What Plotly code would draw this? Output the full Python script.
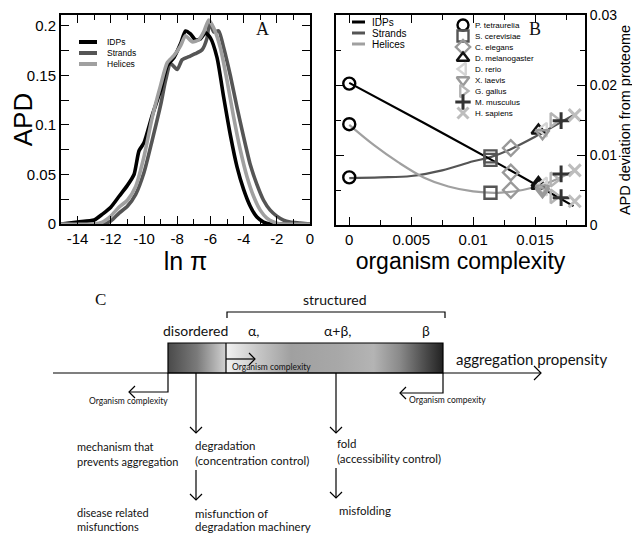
import plotly.graph_objects as go

# ---------------- Panel A data (APD vs ln pi) ----------------
idp_x = [-15, -14, -13, -12.5, -12, -11.5, -11, -10.6, -10.3, -10, -9.5, -9, -8.6, -8.2, -7.8,
         -7.5, -7.2, -6.9, -6.6, -6.3, -6.0, -5.6, -5.2, -4.8, -4.4, -4.0, -3.6, -3.2, -2.8, -2.4, -1, 0]
idp_y = [0, 0.002, 0.004, 0.010, 0.017, 0.028, 0.039, 0.050, 0.074, 0.082, 0.110, 0.135, 0.160, 0.168, 0.182,
         0.195, 0.192, 0.186, 0.187, 0.193, 0.188, 0.168, 0.128, 0.090, 0.058, 0.035, 0.018, 0.007, 0.002, 0.0, 0, 0]

strand_x = [-15, -12.5, -12, -11.5, -11, -10.5, -10, -9.5, -9, -8.7, -8.4, -8.0, -7.7, -7.3, -6.9, -6.5,
            -6.2, -6.05, -5.8, -5.5, -5.2, -4.8, -4.4, -4.0, -3.6, -3.2, -2.8, -2.4, -2.0, -1.6, -1.2, -0.6, 0]
strand_y = [0, 0, 0.003, 0.011, 0.018, 0.030, 0.052, 0.085, 0.120, 0.145, 0.162, 0.156, 0.166, 0.169, 0.172, 0.176,
            0.188, 0.204, 0.194, 0.195, 0.178, 0.150, 0.118, 0.088, 0.060, 0.040, 0.024, 0.014, 0.008, 0.004, 0.002, 0.001, 0]

helix_x = [-15, -13, -12.5, -12, -11.5, -11, -10.5, -10, -9.5, -9, -8.6, -8.2, -7.8, -7.5, -7.1, -6.7,
           -6.4, -6.1, -5.8, -5.4, -5.0, -4.6, -4.2, -3.8, -3.4, -3.0, -2.6, -2.2, -1.8, -1, 0]
helix_y = [0, 0, 0.002, 0.008, 0.017, 0.024, 0.038, 0.068, 0.108, 0.140, 0.163, 0.170, 0.180, 0.190, 0.184, 0.186,
           0.194, 0.206, 0.198, 0.178, 0.145, 0.108, 0.075, 0.048, 0.028, 0.014, 0.006, 0.002, 0, 0, 0]

# ---------------- Panel B data (APD deviation vs organism complexity) ----------------
organisms = ["P. tetraurelia", "S. cerevisiae", "C. elegans", "D. melanogaster", "D. rerio",
             "X. laevis", "G. gallus", "M. musculus", "H. sapiens"]
complexity = [0.0, 0.01140, 0.01304, 0.01527, 0.0157, 0.0156, 0.0165, 0.0171, 0.0182]
dev_idp = [0.0202, 0.0093, 0.0075, 0.0060, 0.0052, 0.0048, 0.0041, 0.0039, 0.0034]
dev_strand = [0.0068, 0.0098, 0.0110, 0.0135, 0.0136, 0.0131, 0.0150, 0.0149, 0.0157]
dev_helix = [0.0144, 0.0046, 0.0050, 0.0056, 0.0058, 0.0052, 0.0065, 0.0073, 0.0078]

fit_idp_x = [0.0, 0.0060, 0.0120, 0.0181]
fit_idp_y = [0.0203, 0.0146, 0.0088, 0.0027]
fit_strand_x = [0.0, 0.0025, 0.005, 0.0075, 0.010, 0.0114, 0.013, 0.015, 0.0165, 0.0182]
fit_strand_y = [0.0067, 0.0068, 0.0070, 0.0078, 0.0091, 0.0097, 0.0108, 0.0126, 0.0141, 0.0158]
fit_helix_x = [0.0, 0.002, 0.004, 0.006, 0.008, 0.010, 0.012, 0.014, 0.016, 0.0182]
fit_helix_y = [0.0143, 0.0114, 0.0089, 0.0068, 0.0055, 0.0048, 0.0046, 0.0050, 0.0060, 0.0078]

# ---------------- tick labels ----------------
a_xtickvals = [-14, -12, -10, -8, -6, -4, -2, 0]
a_xticktext = ["-14", "-12", "-10", "-8", "-6", "-4", "-2", "0"]
a_ytickvals = [0, 0.05, 0.1, 0.15, 0.2]
a_yticktext = ["0", "0.05", "0.1", "0.15", "0.2"]
b_xtickvals = [0, 0.005, 0.01, 0.015]
b_xticktext = ["0", "0.005", "0.01", "0.015"]
b_ytickvals = [0, 0.01, 0.02, 0.03]
b_yticktext = ["0", "0.01", "0.02", "0.03"]

# ---------------- styles / geometry ----------------
WIN_W, WIN_H = 640, 533   # browser window
OFF = 8                   # default page body margin
W, H = WIN_W - OFF, WIN_H - OFF
SANS = "Liberation Sans, Arial, sans-serif"
SERIF = "Liberation Serif, Times New Roman, serif"
DIAG = "Lato, Open Sans, sans-serif"
series_colors = {"IDPs": "#000000", "Strands": "#555555", "Helices": "#a0a0a0"}
org_style = [
    ("circle-open", "#000000"), ("square-open", "#555555"), ("diamond-open", "#999999"),
    ("triangle-up-open", "#111111"), ("triangle-left-open", "#d4d4d4"), ("triangle-down-open", "#9a9a9a"),
    ("triangle-right-open", "#b4b4b4"), ("cross-thin-open", "#333333"), ("x-thin-open", "#bdbdbd"),
]

def px(x):
    return (x - OFF) / W

def py(y):
    return 1 - (y - OFF) / H

fig = go.Figure()

# ---- Panel A curves ----
for name, xs, ys in [("Strands", strand_x, strand_y), ("IDPs", idp_x, idp_y), ("Helices", helix_x, helix_y)]:
    fig.add_trace(go.Scatter(x=xs, y=ys, mode="lines", name=name, showlegend=False,
                             line=dict(color=series_colors[name], width=3.6, shape="spline", smoothing=0.6),
                             xaxis="x", yaxis="y"))

# ---- Panel B fits ----
for name, xs, ys in [("Strands", fit_strand_x, fit_strand_y), ("Helices", fit_helix_x, fit_helix_y),
                     ("IDPs", fit_idp_x, fit_idp_y)]:
    fig.add_trace(go.Scatter(x=xs, y=ys, mode="lines", name=name + " fit", showlegend=False,
                             line=dict(color=series_colors[name], width=2.2, shape="spline"),
                             xaxis="x2", yaxis="y2"))

# ---- Panel B markers ----
for i, org in enumerate(organisms):
    sym, col = org_style[i]
    lw = 3 if "thin" in sym else 2.4
    fig.add_trace(go.Scatter(x=[complexity[i]] * 3, y=[dev_idp[i], dev_strand[i], dev_helix[i]],
                             mode="markers", name=org, showlegend=False,
                             marker=dict(symbol=sym, size=12, color=col, line=dict(color=col, width=lw)),
                             xaxis="x2", yaxis="y2"))

# ---- overlay pixel axes (x3/y3, window pixel coordinates) for legends and schematic ----
leg_dy = 11
legA_x0, legA_x1, legA_tx, legA_y0 = 79, 97, 105, 42
for k, name in enumerate(["IDPs", "Strands", "Helices"]):
    yy = legA_y0 + k * leg_dy
    fig.add_trace(go.Scatter(x=[legA_x0, legA_x1], y=[yy, yy], mode="lines", showlegend=False, hoverinfo="skip",
                             line=dict(color=series_colors[name], width=4), xaxis="x3", yaxis="y3"))
    fig.add_annotation(x=legA_tx, y=yy, text=name, xref="x3", yref="y3", xanchor="left", yanchor="middle",
                       showarrow=False, font=dict(family=SANS, size=8.5, color="#000"))
legB_x0, legB_x1, legB_tx, legB_y0 = 352, 365, 370, 22
for k, name in enumerate(["IDPs", "Strands", "Helices"]):
    yy = legB_y0 + k * leg_dy
    fig.add_trace(go.Scatter(x=[legB_x0, legB_x1], y=[yy, yy], mode="lines", showlegend=False, hoverinfo="skip",
                             line=dict(color=series_colors[name], width=3), xaxis="x3", yaxis="y3"))
    fig.add_annotation(x=legB_tx, y=yy, text=name, xref="x3", yref="y3", xanchor="left", yanchor="middle",
                       showarrow=False, font=dict(family=SANS, size=10, color="#000"))
legM_x, legM_tx, legM_y0, legM_dy = 463, 473, 25, 11
for k, org in enumerate(organisms):
    sym, col = org_style[k]
    yy = legM_y0 + k * legM_dy
    lw = 3 if "thin" in sym else 2.4
    fig.add_trace(go.Scatter(x=[legM_x], y=[yy], mode="markers", showlegend=False, hoverinfo="skip",
                             marker=dict(symbol=sym, size=11, color=col, line=dict(color=col, width=lw)),
                             xaxis="x3", yaxis="y3"))
    fig.add_annotation(x=legM_tx, y=yy, text=org, xref="x3", yref="y3", xanchor="left", yanchor="middle",
                       showarrow=False, font=dict(family=SANS, size=8, color="#000"))

# ---- Panel C schematic ----
bar_l, bar_r, bar_div, bar_t, bar_b = 168, 443, 226, 343, 373
fig.add_trace(go.Scatter(x=[bar_l, bar_div, bar_div, bar_l, bar_l], y=[bar_t, bar_t, bar_b, bar_b, bar_t],
                         mode="lines", fill="toself", line=dict(width=0), showlegend=False, hoverinfo="skip",
                         fillgradient=dict(type="horizontal",
                                           colorscale=[[0, "#4a4a4a"], [0.5, "#7a7a7a"], [1, "#d2d2d2"]]),
                         xaxis="x3", yaxis="y3"))
fig.add_trace(go.Scatter(x=[bar_div, bar_r, bar_r, bar_div, bar_div], y=[bar_t, bar_t, bar_b, bar_b, bar_t],
                         mode="lines", fill="toself", line=dict(width=0), showlegend=False, hoverinfo="skip",
                         fillgradient=dict(type="horizontal",
                                           colorscale=[[0, "#f2f2f2"], [0.15, "#c6c6c6"], [0.3, "#a0a0a0"],
                                                       [0.52, "#a8a8a8"], [0.68, "#b4b4b4"], [0.8, "#8a8a8a"],
                                                       [0.9, "#555555"], [1, "#222222"]]),
                         xaxis="x3", yaxis="y3"))

shapes = []
def line_path(d, w=1.2):
    shapes.append(dict(type="path", path=d, xref="x3", yref="y3", line=dict(color="#000", width=w)))

def chevron(x, y, direction, s=7):
    if direction == "right":
        return f"M{x - s},{y - s} L{x},{y} L{x - s},{y + s}"
    if direction == "left":
        return f"M{x + s},{y - s} L{x},{y} L{x + s},{y + s}"
    return f"M{x - s},{y - s} L{x},{y} L{x + s},{y - s}"  # down

shapes.append(dict(type="rect", x0=bar_l, x1=bar_r, y0=bar_t, y1=bar_b, xref="x3", yref="y3",
                   line=dict(color="#000", width=1.2)))
line_path(f"M{bar_div},{bar_t} L{bar_div},{bar_b}")
line_path("M53,373 L541,373"); line_path(chevron(541, 373, "right", 7))
line_path("M226,359 L255,359"); line_path(chevron(255, 359, "right", 6))
line_path("M168,373 L168,392 L129,392"); line_path(chevron(129, 392, "left", 6))
line_path("M443,373 L443,393 L400,393"); line_path(chevron(400, 393, "left", 6))
line_path("M196,373 L196,433"); line_path(chevron(196, 433, "down", 6))
line_path("M336,373 L336,433"); line_path(chevron(336, 433, "down", 6))
line_path("M196,470 L196,500"); line_path(chevron(196, 500, "down", 6))
line_path("M336,468 L336,498"); line_path(chevron(336, 498, "down", 6))
line_path("M227,318 L227,312 L445,312 L445,318")

def txt(x, y, s, size, anchor="left", family=DIAG):
    fig.add_annotation(x=x, y=y, text=s, xref="x3", yref="y3", xanchor=anchor, yanchor="middle",
                       showarrow=False, font=dict(family=family, size=size, color="#111"))

txt(100, 299, "C", 17, "center", SERIF)
txt(335, 299, "structured", 14, "center")
txt(195, 330, "disordered", 14, "center")
txt(253, 330, "α,", 14, "center")
txt(337, 330, "α+β,", 14, "center")
txt(426, 330, "β", 14, "center")
txt(454, 359, "aggregation propensity", 15)
txt(230, 367, "Organism complexity", 8.5)
txt(128, 401, "Organism complexity", 8.5, "center")
txt(447, 400, "Organism compexity", 8.5, "center")
txt(75, 446, "mechanism that", 11)
txt(75, 461, "prevents aggregation", 11)
txt(193, 445, "degradation", 11.5)
txt(193, 460, "(concentration control)", 11.5)
txt(335, 443, "fold", 11.5)
txt(335, 458, "(accessibility control)", 11.5)
txt(75, 512, "disease related", 11)
txt(75, 526, "misfunctions", 11)
txt(193, 513, "misfunction of", 11.5)
txt(193, 526, "degradation machinery", 11.5)
txt(337, 510, "misfolding", 11.5)

fig.add_annotation(x=262, y=29, text="A", xref="x3", yref="y3", showarrow=False,
                   font=dict(family=SERIF, size=18, color="#111"))
fig.add_annotation(x=535, y=29, text="B", xref="x3", yref="y3", showarrow=False,
                   font=dict(family=SERIF, size=18, color="#111"))

axis_common = dict(showline=True, linecolor="#000", linewidth=2, mirror="allticks", ticks="inside",
                   tickcolor="#000", tickwidth=1.2, ticklen=8, showgrid=False, zeroline=False,
                   automargin=False, tickfont=dict(family=SANS, size=15, color="#000"))

TOP = 15   # top border of panels A and B (window px)

fig.update_layout(
    width=W, height=H, margin=dict(l=0, r=0, t=0, b=0),
    paper_bgcolor="white", plot_bgcolor="rgba(0,0,0,0)", showlegend=False,
    xaxis=dict(domain=[px(61), px(310)], range=[-15, 0], tickvals=a_xtickvals, ticktext=a_xticktext,
               minor=dict(dtick=1, ticks="inside", ticklen=5, tickcolor="#000"),
               title=dict(text="ln π", font=dict(family=SANS, size=25, color="#000"), standoff=1),
               anchor="y", **axis_common),
    yaxis=dict(domain=[py(224), py(TOP)], range=[0, 0.2111], tickvals=a_ytickvals, ticktext=a_yticktext,
               minor=dict(dtick=0.025, ticks="inside", ticklen=8, tickcolor="#000"),
               title=dict(text="APD", font=dict(family=SANS, size=26, color="#000"), standoff=2),
               anchor="x", **axis_common),
    xaxis2=dict(domain=[px(336), px(585)], range=[-0.00107, 0.01903], tickvals=b_xtickvals, ticktext=b_xticktext,
                minor=dict(dtick=0.0025, ticks="inside", ticklen=5, tickcolor="#000"),
                title=dict(text="organism complexity", font=dict(family=SANS, size=23, color="#000"), standoff=1),
                anchor="y2", **axis_common),
    yaxis2=dict(domain=[py(225), py(TOP)], range=[0, 0.03], tickvals=b_ytickvals, ticktext=b_yticktext,
                side="right", ticklabeloverflow="allow",
                minor=dict(dtick=0.005, ticks="inside", ticklen=5, tickcolor="#000"),
                title=dict(text="APD deviation from proteome", font=dict(family=SANS, size=14.5, color="#000"),
                           standoff=0),
                anchor="x2", **{**axis_common, "tickfont": dict(family=SANS, size=14, color="#000")}),
    xaxis3=dict(domain=[0, 1], range=[OFF, WIN_W], visible=False, fixedrange=True, anchor="y3"),
    yaxis3=dict(domain=[0, 1], range=[WIN_H, OFF], visible=False, fixedrange=True, anchor="x3"),
    shapes=shapes,
)

fig.write_html("out.html")
